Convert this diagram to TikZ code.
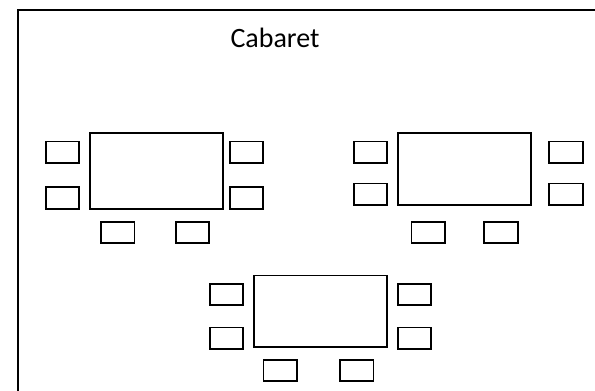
\documentclass[tikz,border=0pt]{standalone}
\usepackage{fontspec}
\setmainfont{Carlito}
\begin{document}
\begin{tikzpicture}[x=1pt,y=-1pt,
  chair/.style={draw,line width=1.9pt,rectangle,inner sep=0pt,minimum width=33.5pt,minimum height=21.5pt},
  tablebox/.style={draw,line width=1.9pt,rectangle,inner sep=0pt,minimum width=133.6pt,minimum height=71.7pt}]
\useasboundingbox (0,0) rectangle (595,391);
\coordinate (fb) at (17.7,393);
\coordinate (fc) at (17.7,9.5);
\coordinate (fr) at (597,9.5);
\draw[line width=2pt] (fb) -- (fc) -- (fr);
\node[anchor=base west,inner sep=0pt,font=\fontsize{28}{32}\selectfont] (title) at (230.3,47.3) {Cabaret};
% group 1
\node[tablebox,minimum height=75.4pt] (t1) at (156.5,171) {};
\node[chair] (c1a) at (62.5,152.2) {};
\node[chair] (c1b) at (62.5,198) {};
\node[chair] (c1c) at (246.5,152.2) {};
\node[chair] (c1d) at (246.5,198) {};
\node[chair] (c1e) at (117.7,232.3) {};
\node[chair] (c1f) at (192.5,232.3) {};
% group 2
\node[tablebox] (t2) at (464.5,169.2) {};
\node[chair] (c2a) at (370.5,152.2) {};
\node[chair] (c2b) at (370.5,194.2) {};
\node[chair] (c2c) at (566,152.2) {};
\node[chair] (c2d) at (566,194.2) {};
\node[chair] (c2e) at (428.2,232.3) {};
\node[chair] (c2f) at (500.8,232.3) {};
% group 3
\node[tablebox] (t3) at (320.5,311.3) {};
\node[chair] (c3a) at (226.5,294.3) {};
\node[chair] (c3b) at (226.5,338.2) {};
\node[chair] (c3c) at (414.5,294.3) {};
\node[chair] (c3d) at (414.5,338.2) {};
\node[chair] (c3e) at (280.2,370.3) {};
\node[chair] (c3f) at (356.7,370.3) {};
\end{tikzpicture}
\end{document}
